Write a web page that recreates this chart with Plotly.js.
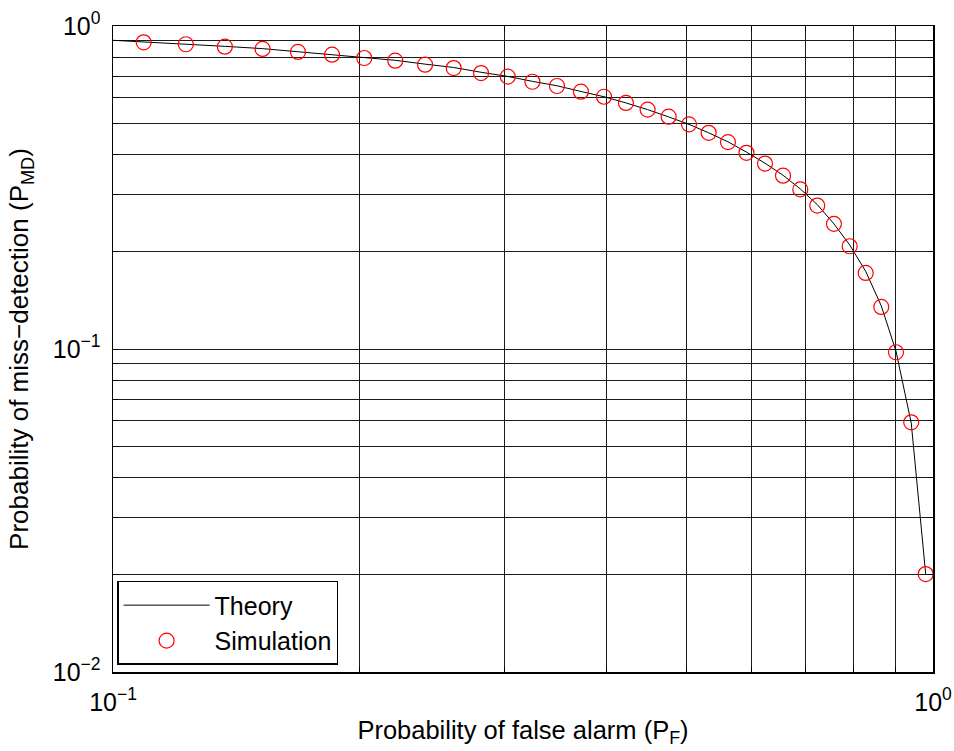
<!DOCTYPE html>
<html>
<head>
<meta charset="utf-8">
<script src="https://cdn.plot.ly/plotly-3.0.1.min.js"></script>
<style>html,body{margin:0;padding:0;background:#fff;}#chart{width:954px;height:751px;}</style>
</head>
<body>
<div id="chart"></div>
<script>
// Theory curve
const pfTheory = [0.1000,0.1090,0.1227,0.1369,0.1522,0.1681,0.1850,0.2025,0.2209,0.2402,0.2603,0.2811,0.3030,0.3247,0.3479,0.3721,0.3970,0.4222,0.4487,0.4760,0.5040,0.5326,0.5623,0.5923,0.6239,0.6563,0.6889,0.7225,0.7572,0.7914,0.8278,0.8648,0.9013,0.9407,0.9797];
const pmdTheory = [0.903,0.893,0.880,0.865,0.851,0.833,0.817,0.799,0.783,0.762,0.744,0.719,0.698,0.674,0.653,0.627,0.604,0.578,0.551,0.523,0.496,0.467,0.438,0.407,0.376,0.345,0.313,0.280,0.244,0.210,0.174,0.136,0.0985,0.0590,0.0201];

// Simulation points (red circles)
const pfSim = [0.1090,0.1227,0.1369,0.1522,0.1681,0.1850,0.2025,0.2209,0.2402,0.2603,0.2811,0.3030,0.3247,0.3479,0.3721,0.3970,0.4222,0.4487,0.4760,0.5040,0.5326,0.5623,0.5923,0.6239,0.6563,0.6889,0.7225,0.7572,0.7914,0.8278,0.8648,0.9013,0.9407,0.9797];
const pmdSim = [0.890,0.878,0.863,0.849,0.831,0.815,0.796,0.781,0.759,0.741,0.715,0.697,0.672,0.652,0.626,0.604,0.578,0.551,0.524,0.496,0.467,0.437,0.405,0.375,0.344,0.312,0.278,0.244,0.208,0.172,0.135,0.0977,0.0593,0.0201];

// Labelled (decade) ticks and unlabelled minor grid ticks
const xTickVals = [0.1, 1.0];
const xTickText = ['10<sup>\u22121</sup>', '10<sup>0</sup>'];
const xMinorVals = [0.2,0.3,0.4,0.5,0.6,0.7,0.8,0.9];
const yTickVals = [0.01, 0.1, 1.0];
const yTickText = ['10<sup>\u22122</sup>', '10<sup>\u22121</sup>', '10<sup>0</sup>'];
const yMinorVals = [0.02,0.03,0.04,0.05,0.06,0.07,0.08,0.09,0.2,0.3,0.4,0.5,0.6,0.7,0.8,0.9];

const FONT = 'Liberation Sans, Arial, Helvetica, sans-serif';

const traces = [
  {
    x: pfTheory, y: pmdTheory, type: 'scatter', mode: 'lines', name: 'Theory',
    line: {color: '#000000', width: 1}
  },
  {
    x: pfSim, y: pmdSim, type: 'scatter', mode: 'markers', name: 'Simulation',
    marker: {symbol: 'circle-open', size: 15, color: '#ff0000', line: {color: '#ff0000', width: 1.2}}
  }
];

const axisCommon = {
  type: 'log', showline: true, linecolor: '#000', linewidth: 1.5, mirror: 'ticks',
  ticks: 'inside', ticklen: 5, tickcolor: '#000', tickwidth: 1,
  showgrid: true, gridcolor: '#1a1a1a', gridwidth: 1, zeroline: false,
  tickmode: 'array', tickfont: {family: FONT, size: 25, color: '#000'}
};

const minorCommon = {
  ticks: 'inside', ticklen: 5, tickcolor: '#000', tickwidth: 1,
  showgrid: true, gridcolor: '#1a1a1a', gridwidth: 1
};

const layout = {
  width: 954, height: 751,
  margin: {l: 113, r: 21, t: 26, b: 79},
  paper_bgcolor: '#fff', plot_bgcolor: '#fff',
  font: {family: FONT, color: '#000'},
  showlegend: true,
  xaxis: Object.assign({}, axisCommon, {
    range: [-1, 0], tickvals: xTickVals, ticktext: xTickText, ticklabelstandoff: 7,
    minor: Object.assign({tickmode: 'array', tickvals: xMinorVals}, minorCommon),
    title: {text: 'Probability of false alarm (P<sub>F</sub>)', font: {family: FONT, size: 25.5, color: '#000'}, standoff: 6}
  }),
  yaxis: Object.assign({}, axisCommon, {
    range: [-2, 0], tickvals: yTickVals, ticktext: yTickText, ticklabelstandoff: 6,
    minor: Object.assign({tickmode: 'array', tickvals: yMinorVals}, minorCommon),
    title: {text: 'Probability of miss\u2212detection (P<sub>MD</sub>)', font: {family: FONT, size: 26, color: '#000'}, standoff: 16}
  }),
  legend: {
    x: 0.005, y: 0.011, xanchor: 'left', yanchor: 'bottom',
    bgcolor: '#fff', bordercolor: '#000', borderwidth: 1.5,
    font: {family: FONT, size: 25, color: '#000'},
    itemwidth: 86, tracegroupgap: 0
  }
};

Plotly.newPlot('chart', traces, layout, {displayModeBar: false, staticPlot: true});
</script>
</body>
</html>
